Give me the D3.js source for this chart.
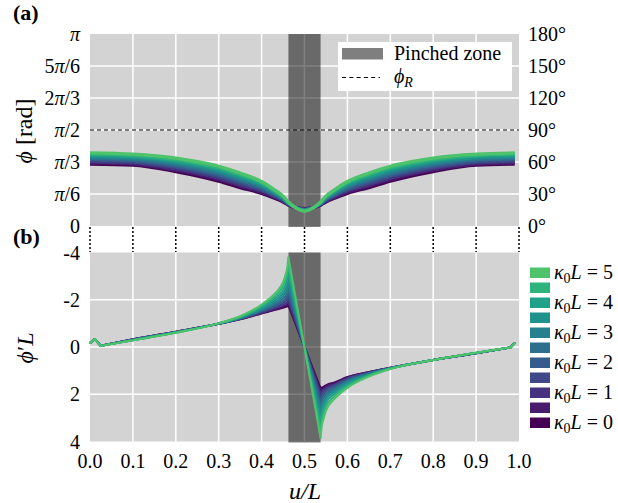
<!DOCTYPE html>
<html><head><meta charset="utf-8">
<script src="https://cdn.jsdelivr.net/npm/d3@7"></script>
<style>
body{margin:0;background:#fff}
svg{display:block}
text{font-family:"Liberation Serif","Times New Roman",serif;fill:#000}
</style>
</head><body>
<svg id="c" width="618" height="503"></svg>
<script>
// ---------- data ----------
const kappaValues = [0, 0.5, 1, 1.5, 2, 2.5, 3, 3.5, 4, 4.5, 5];
const uTicks = [0, 0.1, 0.2, 0.3, 0.4, 0.5, 0.6, 0.7, 0.8, 0.9, 1.0];
const uTickLabels = ["0.0","0.1","0.2","0.3","0.4","0.5","0.6","0.7","0.8","0.9","1.0"];
const degTicks = [0, 30, 60, 90, 120, 150, 180];
const radTickLabels = ["0","π/6","π/3","π/2","2π/3","5π/6","π"];
const degTickLabels = ["0°","30°","60°","90°","120°","150°","180°"];
const dTicks = [-4, -2, 0, 2, 4];
const dTickLabels = ["-4","-2","0","2","4"];
const pinchedZone = [0.4625, 0.5375];
const phiR = 90; // degrees

// panel (a): phi in degrees
const uTop = [0,0.1,0.2,0.3,0.35,0.4,0.43,0.45,0.4625,0.48,0.5,0.52,0.5375,0.55,0.57,0.6,0.65,0.7,0.8,0.9,0.99];
const phiTop = [
 [58,57,51,42,36,30.5,26,22.5,19.5,17.3,16.3,17.3,19.5,22.5,26,30.5,36,42,51,57,58],
 [59.1,58.0,52.3,43.4,37.4,31.6,26.8,23.1,19.8,17.3,16.1,17.3,19.8,23.1,26.8,31.6,37.4,43.4,52.3,58.0,59.1],
 [60.1,59.1,53.5,44.8,38.7,32.7,27.6,23.6,20.1,17.2,15.8,17.2,20.1,23.6,27.6,32.7,38.7,44.8,53.5,59.1,60.1],
 [61.2,60.1,54.8,46.2,40.1,33.9,28.4,24.2,20.4,17.2,15.6,17.2,20.4,24.2,28.4,33.9,40.1,46.2,54.8,60.1,61.2],
 [62.2,61.1,56.0,47.6,41.5,35.0,29.2,24.7,20.7,17.2,15.4,17.2,20.7,24.7,29.2,35.0,41.5,47.6,56.0,61.1,62.2],
 [63.3,62.2,57.3,49.0,42.9,36.1,30.0,25.3,21.0,17.2,15.2,17.2,21.0,25.3,30.0,36.1,42.9,49.0,57.3,62.2,63.3],
 [64.3,63.2,58.6,50.4,44.2,37.2,30.8,25.8,21.3,17.1,14.9,17.1,21.3,25.8,30.8,37.2,44.2,50.4,58.6,63.2,64.3],
 [65.4,64.2,59.8,51.8,45.6,38.3,31.6,26.4,21.6,17.1,14.7,17.1,21.6,26.4,31.6,38.3,45.6,51.8,59.8,64.2,65.4],
 [66.4,65.2,61.1,53.2,47.0,39.5,32.4,26.9,21.9,17.1,14.5,17.1,21.9,26.9,32.4,39.5,47.0,53.2,61.1,65.2,66.4],
 [67.5,66.3,62.3,54.6,48.3,40.6,33.2,27.5,22.2,17.0,14.2,17.0,22.2,27.5,33.2,40.6,48.3,54.6,62.3,66.3,67.5],
 [68.5,67.3,63.6,56.0,49.7,41.7,34.0,28.0,22.5,17.0,14.0,17.0,22.5,28.0,34.0,41.7,49.7,56.0,63.6,67.3,68.5]
];

// panel (b): phi' L
const uBot = [0,0.011,0.025,0.1,0.2,0.3,0.35,0.4,0.43,0.44,0.45,0.455,0.46,0.4625,0.5375,0.54,0.545,0.55,0.57,0.6,0.65,0.7,0.8,0.9,0.98,0.99];
const dphiBot = [
 [-0.17,-0.34,-0.05,-0.33,-0.65,-0.98,-1.17,-1.42,-1.56,-1.61,-1.66,-1.69,-1.72,-1.75,1.75,1.72,1.68,1.62,1.50,1.27,1.06,0.88,0.55,0.26,0.02,-0.17],
 [-0.17,-0.34,-0.05,-0.33,-0.65,-0.98,-1.18,-1.44,-1.59,-1.65,-1.71,-1.76,-1.80,-1.85,1.86,1.80,1.75,1.67,1.54,1.29,1.07,0.88,0.55,0.26,0.02,-0.17],
 [-0.17,-0.34,-0.05,-0.32,-0.64,-0.98,-1.18,-1.46,-1.64,-1.70,-1.78,-1.83,-1.90,-1.98,1.98,1.90,1.83,1.74,1.58,1.32,1.08,0.89,0.55,0.26,0.02,-0.17],
 [-0.17,-0.34,-0.05,-0.32,-0.64,-0.99,-1.19,-1.49,-1.68,-1.76,-1.86,-1.93,-2.02,-2.12,2.13,2.02,1.92,1.81,1.63,1.35,1.09,0.89,0.55,0.26,0.02,-0.17],
 [-0.17,-0.34,-0.05,-0.31,-0.63,-0.99,-1.20,-1.52,-1.74,-1.83,-1.94,-2.03,-2.16,-2.28,2.30,2.16,2.02,1.90,1.68,1.39,1.11,0.89,0.55,0.25,0.02,-0.17],
 [-0.17,-0.34,-0.05,-0.31,-0.63,-0.99,-1.22,-1.55,-1.80,-1.90,-2.04,-2.15,-2.31,-2.47,2.49,2.31,2.14,2.00,1.75,1.43,1.13,0.90,0.55,0.25,0.02,-0.17],
 [-0.17,-0.34,-0.05,-0.30,-0.62,-0.99,-1.23,-1.59,-1.87,-1.99,-2.15,-2.28,-2.48,-2.67,2.70,2.48,2.27,2.11,1.82,1.48,1.15,0.90,0.55,0.25,0.02,-0.17],
 [-0.17,-0.34,-0.05,-0.30,-0.62,-1.00,-1.24,-1.63,-1.95,-2.08,-2.27,-2.42,-2.66,-2.90,2.93,2.66,2.42,2.22,1.89,1.53,1.17,0.91,0.55,0.25,0.02,-0.17],
 [-0.17,-0.34,-0.05,-0.29,-0.61,-1.00,-1.26,-1.68,-2.04,-2.19,-2.41,-2.59,-2.88,-3.16,3.20,2.88,2.59,2.37,1.98,1.59,1.19,0.91,0.55,0.25,0.02,-0.17],
 [-0.17,-0.34,-0.05,-0.29,-0.61,-1.00,-1.28,-1.74,-2.14,-2.32,-2.58,-2.79,-3.13,-3.47,3.51,3.13,2.79,2.53,2.09,1.66,1.22,0.92,0.55,0.24,0.02,-0.17],
 [-0.17,-0.34,-0.05,-0.28,-0.60,-1.00,-1.30,-1.80,-2.25,-2.45,-2.75,-3.00,-3.40,-3.80,3.85,3.40,3.00,2.70,2.20,1.73,1.25,0.93,0.55,0.24,0.02,-0.17]
];
// index ranges of panel (b) pieces: [start, end, smooth?]
const bPieces = [[0, 2, false], [2, 13, true], [13, 14, false], [14, 24, true], [24, 25, false]];

// ---------- drawing ----------
const svg = d3.select("#c");
const FS = 20;
const x = d3.scaleLinear().domain([0, 1]).range([90, 519]);
const yA = d3.scaleLinear().domain([0, 180]).range([226, 34]);
const yB = d3.scaleLinear().domain([-4, 4]).range([252.5, 441.5]);
const color = i => d3.interpolateViridis(i / (kappaValues.length - 1) * 0.72);

function richText(sel, str) {
  const parts = str.split(/(π)/).filter(s => s.length);
  parts.forEach(p => {
    const t = sel.append("tspan").text(p);
    if (p === "π") t.attr("font-style", "italic");
  });
}

function panel(y, yTicks) {
  const g = svg.append("g");
  const top = Math.min(...y.range()), bot = Math.max(...y.range());
  g.append("rect").attr("x", x(0)).attr("y", top)
    .attr("width", x(1) - x(0)).attr("height", bot - top)
    .attr("fill", "#d3d3d3");
  g.selectAll("line.vg").data(uTicks.slice(1, -1)).join("line")
    .attr("x1", d => x(d)).attr("x2", d => x(d))
    .attr("y1", top).attr("y2", bot)
    .attr("stroke", "#fff").attr("stroke-width", 1.5);
  g.selectAll("line.hg").data(yTicks.slice(1, -1)).join("line")
    .attr("x1", x(0)).attr("x2", x(1))
    .attr("y1", d => y(d)).attr("y2", d => y(d))
    .attr("stroke", "#fff").attr("stroke-width", 1.5);
  g.append("rect").attr("x", x(pinchedZone[0])).attr("y", top)
    .attr("width", x(pinchedZone[1]) - x(pinchedZone[0])).attr("height", bot - top + 1)
    .attr("fill", "#000").attr("fill-opacity", 0.5);
  return g;
}

// panel (a)
const gA = panel(yA, degTicks);
gA.append("line").attr("x1", x(0)).attr("x2", x(1)).attr("y1", yA(phiR)).attr("y2", yA(phiR))
  .attr("stroke", "#000").attr("stroke-width", 1.2).attr("stroke-dasharray", "4,3");
const lineA = d3.line().x((d, i) => x(uTop[i])).y(d => yA(d)).curve(d3.curveMonotoneX);
phiTop.forEach((row, k) => {
  gA.append("path").attr("d", lineA(row)).attr("fill", "none")
    .attr("stroke", color(k)).attr("stroke-width", 3.2);
});

// panel (b)
const gB = panel(yB, dTicks);
dphiBot.forEach((row, k) => {
  const g = gB.append("g").attr("fill", "none").attr("stroke", color(k))
    .attr("stroke-width", 2).attr("stroke-linejoin", "round").attr("stroke-linecap", "round");
  bPieces.forEach(([s, e, smooth]) => {
    const pts = d3.range(s, e + 1).map(i => [x(uBot[i]), yB(row[i])]);
    const ln = d3.line().curve(smooth ? d3.curveMonotoneX : d3.curveLinear);
    g.append("path").attr("d", ln(pts));
  });
});

// dotted tick lines between panels
svg.selectAll("line.dt").data(uTicks).join("line")
  .attr("x1", d => x(d)).attr("x2", d => x(d))
  .attr("y1", 227).attr("y2", 252)
  .attr("stroke", "#000").attr("stroke-width", 1.5).attr("stroke-dasharray", "2,2");

// tick labels panel (a)
degTicks.forEach((d, i) => {
  const t = svg.append("text").attr("x", 80).attr("y", yA(d)).attr("text-anchor", "end")
    .attr("dominant-baseline", "central").attr("font-size", FS);
  richText(t, radTickLabels[i]);
  svg.append("text").attr("x", 528).attr("y", yA(d)).attr("dominant-baseline", "central")
    .attr("font-size", FS).text(degTickLabels[i]);
});
// tick labels panel (b)
dTicks.forEach((d, i) => {
  svg.append("text").attr("x", 80).attr("y", yB(d)).attr("text-anchor", "end")
    .attr("dominant-baseline", "central").attr("font-size", FS).text(dTickLabels[i]);
});
uTicks.forEach((d, i) => {
  svg.append("text").attr("x", x(d)).attr("y", 468).attr("text-anchor", "middle")
    .attr("font-size", FS).text(uTickLabels[i]);
});

// axis labels
const la = svg.append("text").attr("transform", "translate(32,131) rotate(-90)")
  .attr("text-anchor", "middle").attr("font-size", 24);
la.append("tspan").attr("font-style", "italic").text("ϕ");
la.append("tspan").text(" [rad]");
const lb = svg.append("text").attr("transform", "translate(33,348) rotate(-90)")
  .attr("text-anchor", "middle").attr("font-size", 24);
lb.append("tspan").attr("font-style", "italic").text("ϕ");
lb.append("tspan").text("′");
lb.append("tspan").attr("font-style", "italic").text("L");
svg.append("text").attr("x", 305).attr("y", 499).attr("text-anchor", "middle")
  .attr("font-size", 24).attr("font-style", "italic").text("u/L");

// panel letters
svg.append("text").attr("x", 13).attr("y", 20).attr("font-size", 22).attr("font-weight", "bold").text("(a)");
svg.append("text").attr("x", 13).attr("y", 244).attr("font-size", 22).attr("font-weight", "bold").text("(b)");

// legend (a)
svg.append("rect").attr("x", 338).attr("y", 42).attr("width", 174).attr("height", 49).attr("fill", "#fff");
svg.append("rect").attr("x", 342).attr("y", 48).attr("width", 41).attr("height", 11.5)
  .attr("fill", "#000").attr("fill-opacity", 0.5);
svg.append("text").attr("x", 394).attr("y", 60).attr("font-size", FS).text("Pinched zone");
svg.append("line").attr("x1", 342).attr("x2", 380).attr("y1", 77.5).attr("y2", 77.5)
  .attr("stroke", "#000").attr("stroke-width", 1.2).attr("stroke-dasharray", "4,3.3");
const lr = svg.append("text").attr("x", 394).attr("y", 83).attr("font-size", FS);
lr.append("tspan").attr("font-style", "italic").text("ϕ");
lr.append("tspan").attr("font-style", "italic").attr("font-size", 14).attr("dy", 4).text("R");

// legend (b)
kappaValues.forEach((kv, k) => {
  const yy = 267.5 + (kappaValues.length - 1 - k) * 15;
  svg.append("rect").attr("x", 530).attr("y", yy).attr("width", 20).attr("height", 10.5).attr("fill", color(k));
  if (Number.isInteger(kv)) {
    const t = svg.append("text").attr("x", 554).attr("y", yy + 11.5).attr("font-size", FS);
    t.append("tspan").attr("font-style", "italic").text("κ");
    t.append("tspan").attr("font-size", 14).attr("dy", 4).text("0");
    t.append("tspan").attr("font-style", "italic").attr("dy", -4).text("L");
    t.append("tspan").text(" = " + kv);
  }
});
</script>
</body></html>
